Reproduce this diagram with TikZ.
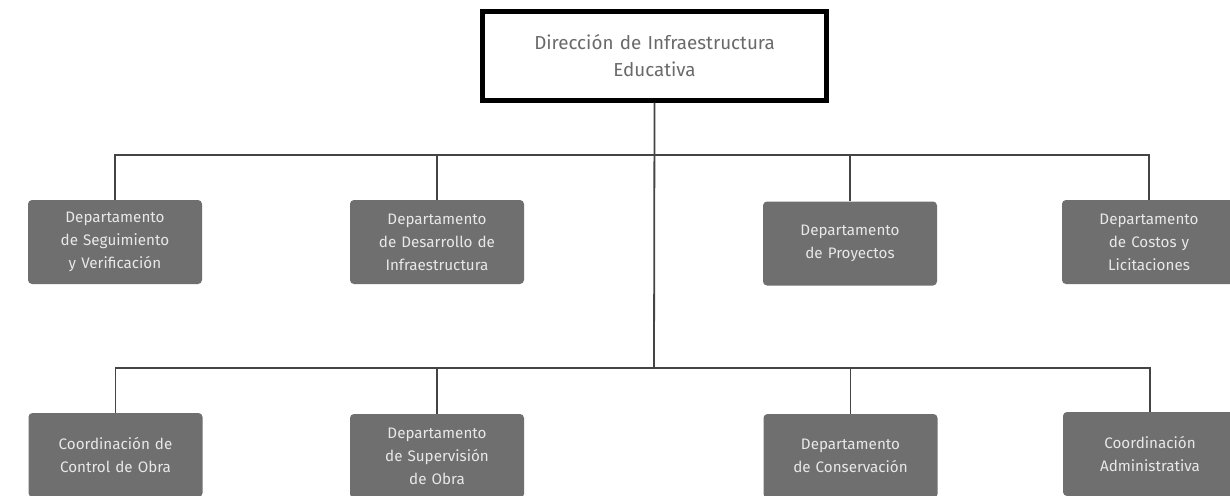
\documentclass[tikz,border=0pt]{standalone}
\usepackage{fontspec}
\setmainfont{Fira Sans}
\definecolor{boxgray}{HTML}{6F6F6F}
\definecolor{boxtext}{HTML}{E8E8E8}
\definecolor{toptext}{HTML}{6A6A6A}
\definecolor{linegray}{HTML}{444444}
\tikzset{
  unit/.style={draw=none, fill=boxgray, rounded corners=4pt, minimum width=174pt, minimum height=84pt,
    text width=168pt, align=center, text=boxtext, inner sep=0pt,
    font=\fontsize{15.2}{23}\selectfont},
  head/.style={draw=black, line width=5pt, fill=white, minimum width=344pt, minimum height=88pt,
    text width=330pt, align=center, text=toptext, inner sep=0pt,
    font=\fontsize{18.8}{27}\selectfont},
  link/.style={draw=linegray, line width=1.8pt}
}
\begin{document}
\begin{tikzpicture}[x=1pt,y=-1pt]
\useasboundingbox (0,0) rectangle (1230,495);
\clip (0,0) rectangle (1230,495);
\fill[white] (0,0) rectangle (1230,495);
\coordinate (bus1) at (654,155);
\coordinate (bus2) at (654,368);
\node[unit] (u1) at (115,242) {Departamento\\de Seguimiento\\y Verificación};
\node[unit] (u2) at (437,242) {Departamento\\de Desarrollo de\\Infraestructura};
\node[unit] (u3) at (850,243.5) {Departamento\\de Proyectos};
\node[unit] (u4) at (1149,242) {Departamento\\de Costos y\\Licitaciones};
\node[unit] (l1) at (115.5,455) {Coordinación de\\Control de Obra};
\node[unit] (l2) at (437,456) {Departamento\\de Supervisión\\de Obra};
\node[unit] (l3) at (850.5,456) {Departamento\\de Conservación};
\node[unit] (l4) at (1150,454) {Coordinación\\Administrativa};
\node[head] (top) at (654.5,56) {Dirección de Infraestructura\\Educativa};
\draw[link] (top.south) -- (bus2);
\draw[link] (u1.north) |- (bus1);
\draw[link] (u2.north) |- (bus1);
\draw[link] (u3.north) |- (bus1);
\draw[link] (u4.north) |- (bus1);
\draw[link] (l1.north) |- (bus2);
\draw[link] (l2.north) |- (bus2);
\draw[link] (l3.north) |- (bus2);
\draw[link] (l4.north) |- (bus2);
\end{tikzpicture}
\end{document}
